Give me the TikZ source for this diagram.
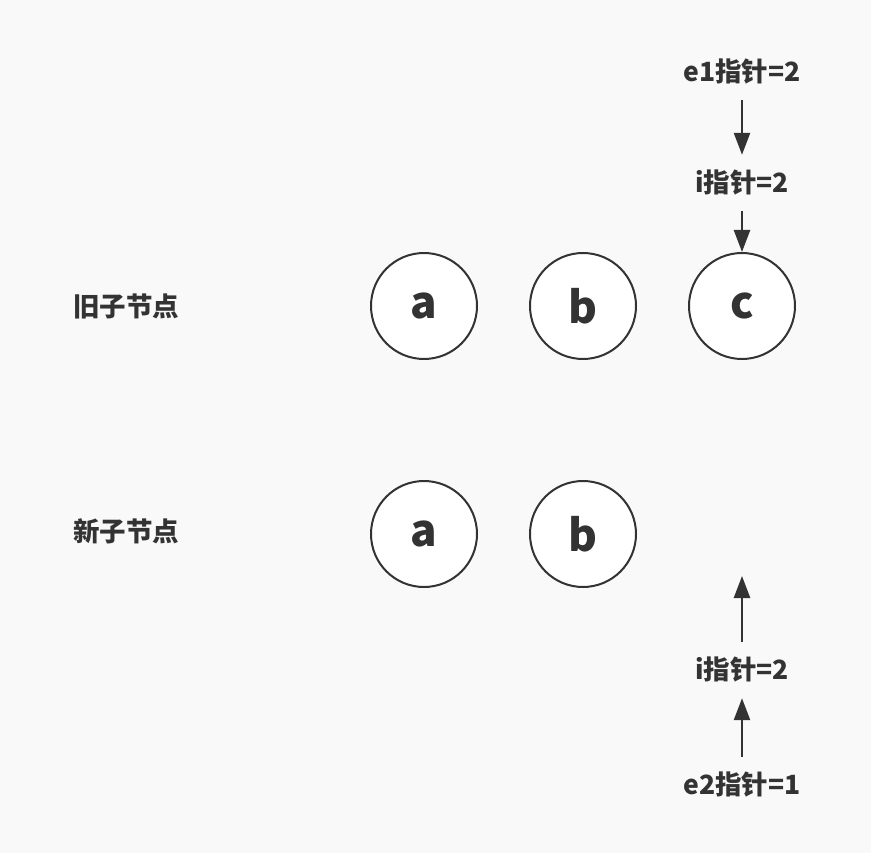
\documentclass[tikz,border=0pt]{standalone}
\usepackage{fontspec}
\setmainfont{Noto Sans CJK SC}
\usetikzlibrary{arrows.meta}
\definecolor{ink}{HTML}{333333}
\definecolor{paper}{HTML}{F9F9F9}
\tikzset{
  vnode/.style={circle,draw=ink,fill=white,line width=2pt,minimum size=106pt,inner sep=0pt,text=ink,font=\bfseries\fontsize{44}{44}\selectfont},
  rowlabel/.style={inner sep=0pt,text=ink,font=\bfseries\fontsize{26.5}{26.5}\selectfont},
  ptrlabel/.style={inner sep=0pt,minimum height=56pt,text=ink,font=\bfseries\fontsize{26.5}{26.5}\selectfont},
  ptr/.style={draw=ink,line width=2.5pt,-{Triangle[length=22pt,width=16pt]}}
}
\begin{document}
\begin{tikzpicture}[x=1pt,y=1pt,yscale=-1,xscale=1]
%set diagram left start at 0, and has height of 853
\fill[paper] (0,0) rectangle (871,853);
\useasboundingbox (0,0) rectangle (871,853);

% Text Node
\node[rowlabel] (oldrow) at (126,306) {旧子节点};
% Text Node
\node[rowlabel] (newrow) at (126,531) {新子节点};

%Shape: Circle
\node[vnode] (olda) at (424,306) {a};
%Shape: Circle
\node[vnode] (oldb) at (583,306) {b};
%Shape: Circle
\node[vnode] (oldc) at (742,306) {c};
%Shape: Circle
\node[vnode] (newa) at (424,534) {a};
%Shape: Circle
\node[vnode] (newb) at (583,534) {b};

% Text Node
\node[ptrlabel] (eone) at (742,72) {e1指针=2};
% Text Node
\node[ptrlabel] (itop) at (742,183) {i指针=2};
% Text Node
\node[ptrlabel] (ibot) at (742,670) {i指针=2};
% Text Node
\node[ptrlabel] (etwo) at (742,785) {e2指针=1};
\coordinate (newc) at (742,576);

%Straight Lines
\draw[ptr] (eone.south) -- (itop.north);
%Straight Lines
\draw[ptr] (itop.south) -- (oldc.north);
%Straight Lines
\draw[ptr] (ibot.north) -- (newc);
%Straight Lines
\draw[ptr] (etwo.north) -- (ibot.south);

\end{tikzpicture}
\end{document}
